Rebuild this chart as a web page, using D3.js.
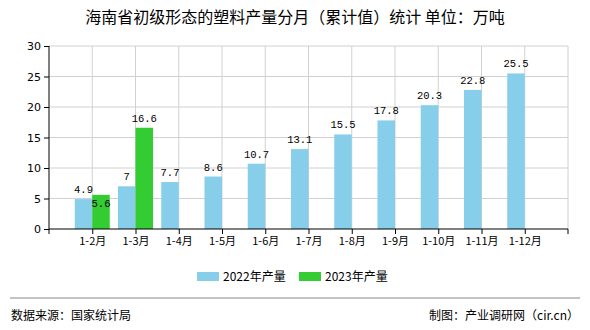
<!DOCTYPE html>
<html>
<head>
<meta charset="utf-8">
<script src="https://cdn.jsdelivr.net/npm/d3@7/dist/d3.min.js"></script>
<style>
  html, body { margin: 0; padding: 0; background: #fff; }
  svg { display: block; }
</style>
</head>
<body>
<svg id="chart" width="590" height="330" font-family="'Noto Sans CJK SC', 'DejaVu Sans', sans-serif"></svg>
<script>
// Cumulative monthly plastic output, Hainan (10k tonnes)
const months = ["1-2月", "1-3月", "1-4月", "1-5月", "1-6月", "1-7月", "1-8月", "1-9月", "1-10月", "1-11月", "1-12月"];
const values2022 = [4.9, 7, 7.7, 8.6, 10.7, 13.1, 15.5, 17.8, 20.3, 22.8, 25.5];
const values2023 = [5.6, 16.6];
const yTicks = [0, 5, 10, 15, 20, 25, 30];
const seriesNames = ["2022年产量", "2023年产量"];
const colors = ["#87CEEB", "#33CC33"];

const svg = d3.select("#chart");
const plotLeft = 49, plotRight = 568, plotTop = 46, plotBottom = 229;
const barW = 17.5;

const x = d3.scalePoint().domain(months).range([plotLeft, plotRight]).padding(1);
const y = d3.scaleLinear().domain([0, 30]).range([plotBottom, plotTop]);

// title
svg.append("text")
  .attr("x", 295).attr("y", 23)
  .attr("text-anchor", "middle")
  .attr("font-size", 16)
  .attr("fill", "#000")
  .text("海南省初级形态的塑料产量分月（累计值）统计 单位：万吨");

// horizontal grid
svg.append("g").selectAll("line").data(yTicks.slice(1)).join("line")
  .attr("x1", plotLeft).attr("x2", plotRight)
  .attr("y1", d => y(d)).attr("y2", d => y(d))
  .attr("stroke", "#d0d0d0").attr("stroke-width", 1);

// vertical grid at category positions and right border
svg.append("g").selectAll("line").data(months).join("line")
  .attr("x1", d => x(d)).attr("x2", d => x(d))
  .attr("y1", plotTop).attr("y2", plotBottom)
  .attr("stroke", "#d0d0d0").attr("stroke-width", 1);
svg.append("line")
  .attr("x1", plotRight).attr("x2", plotRight).attr("y1", plotTop).attr("y2", plotBottom)
  .attr("stroke", "#d0d0d0");

// bars 2022 (left of tick)
svg.append("g").selectAll("rect").data(values2022).join("rect")
  .attr("x", (d, i) => x(months[i]) - barW)
  .attr("y", d => y(d))
  .attr("width", barW)
  .attr("height", d => plotBottom - y(d))
  .attr("fill", colors[0]);

// bars 2023 (right of tick)
svg.append("g").selectAll("rect").data(values2023).join("rect")
  .attr("x", (d, i) => x(months[i]))
  .attr("y", d => y(d))
  .attr("width", barW)
  .attr("height", d => plotBottom - y(d))
  .attr("fill", colors[1]);

const labelFont = "'Liberation Mono', 'DejaVu Sans Mono', monospace";

// value labels
svg.append("g").selectAll("text").data(values2022).join("text")
  .attr("x", (d, i) => x(months[i]) - barW / 2)
  .attr("y", d => y(d) - 6)
  .attr("text-anchor", "middle")
  .attr("font-size", 10.5)
  .attr("font-family", labelFont)
  .text(d => d);

svg.append("g").selectAll("text").data(values2023).join("text")
  .attr("x", (d, i) => x(months[i]) + barW / 2)
  .attr("y", (d, i) => {
    // when the neighbouring 2022 label sits at about the same height, drop inside the bar
    const near = Math.abs(y(d) - y(values2022[i])) < 12;
    return near ? y(d) + 12 : y(d) - 6;
  })
  .attr("text-anchor", "middle")
  .attr("font-size", 10.5)
  .attr("font-family", labelFont)
  .text(d => d);

// y axis
const yAxis = d3.axisLeft(y).tickValues(yTicks).tickSize(5).tickPadding(3);
const gy = svg.append("g").attr("transform", `translate(${plotLeft},0)`).call(yAxis);
gy.attr("font-family", null);
gy.select(".domain").attr("stroke", "#000").attr("d", `M0,${plotTop}V${plotBottom}`);
gy.selectAll(".tick line").attr("stroke", "#000");
gy.selectAll(".tick text").attr("font-size", 11).attr("fill", "#000")
  .attr("font-family", "'DejaVu Sans', sans-serif");

// x axis
const xAxis = d3.axisBottom(x).tickSize(5).tickPadding(3).tickSizeOuter(0);
const gx = svg.append("g").attr("transform", `translate(0,${plotBottom})`).call(xAxis);
gx.attr("font-family", null);
gx.select(".domain").attr("stroke", "#000").attr("d", `M${plotLeft},0H${plotRight}`);
gx.selectAll(".tick line").attr("stroke", "#000");
gx.selectAll(".tick text").attr("font-size", 11).attr("fill", "#000");
[plotLeft, plotRight].forEach(v => gx.append("line")
  .attr("x1", v).attr("x2", v).attr("y1", 0).attr("y2", 5).attr("stroke", "#000"));

// legend
const legend = svg.append("g");
const legX = [197, 299];
seriesNames.forEach((name, i) => {
  legend.append("rect")
    .attr("x", legX[i]).attr("y", 272).attr("width", 22).attr("height", 9)
    .attr("fill", colors[i]);
  legend.append("text")
    .attr("x", legX[i] + 26).attr("y", 281)
    .attr("font-size", 12).attr("fill", "#000")
    .text(name);
});

// footer
svg.append("line")
  .attr("x1", 10).attr("x2", 580).attr("y1", 298).attr("y2", 298)
  .attr("stroke", "#888").attr("stroke-width", 1);
svg.append("text")
  .attr("x", 11).attr("y", 320)
  .attr("font-size", 12).attr("fill", "#000")
  .text("数据来源：国家统计局");
svg.append("text")
  .attr("x", 579).attr("y", 320)
  .attr("text-anchor", "end")
  .attr("font-size", 12).attr("fill", "#000")
  .text("制图：产业调研网（cir.cn）");
</script>
</body>
</html>
